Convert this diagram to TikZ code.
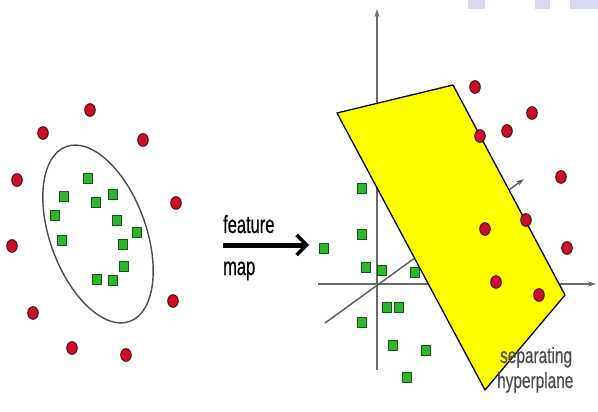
\documentclass[tikz,border=0pt]{standalone}
\usepackage{fontspec}
\setmainfont{Liberation Sans}
\newfontfamily\lblfont[FakeBold=0.6]{Liberation Sans}
\usetikzlibrary{arrows.meta}
\definecolor{redpt}{HTML}{C8102A}
\definecolor{redbd}{HTML}{5A0A0A}
\definecolor{grnpt}{HTML}{2DB52D}
\definecolor{grnbd}{HTML}{0F5A0F}
\definecolor{axisc}{HTML}{6A6A6A}
\definecolor{wmark}{HTML}{D9D9EE}
\definecolor{planey}{HTML}{FFFF00}
\tikzset{
  redball/.style={circle,draw=redbd,fill=redpt,line width=1pt,minimum width=10.5pt,minimum height=10.5pt,inner sep=0pt,yscale=1.2},
  grnsq/.style={rectangle,draw=grnbd,fill=grnpt,line width=1pt,minimum width=8.5pt,minimum height=10pt,inner sep=0pt},
  axisline/.style={draw=axisc,line width=1.4pt,-{Stealth[length=8pt,width=5pt]}},
  lbl/.style={inner sep=0pt,anchor=base west}
}
\begin{document}
\begin{tikzpicture}[x=1pt,y=-1pt]
\useasboundingbox (0,0) rectangle (598,412);
% faint watermark blocks
\fill[wmark] (468,0) rectangle (485,9);
\fill[wmark] (535,0) rectangle (550,9);
\fill[wmark] (570,0) rectangle (598,9);
% ---------- left panel ----------
\draw[line width=1.4pt,draw=black!70] (98,234) ellipse [x radius=48,y radius=93,rotate=20];
\foreach \p [count=\i] in {(90,110),(43,133),(143,140),(17,180),(176,203),(12,246),(173,301),(33,313),(72,348),(126,355)}
  \node[redball] (lr\i) at \p {};
\foreach \p [count=\i] in {(88,178),(64,196),(96,202),(113,194),(55,215),(117,220),(137,232),(62,240),(123,244),(124,266),(97,279),(113,280)}
  \node[grnsq] (lg\i) at \p {};
% ---------- feature map arrow ----------
\coordinate (fmA) at (223,245);
\coordinate (fmB) at (309,245);
\draw[line width=5pt,-{Straight Barb[length=10pt,width=20pt,line width=3.5pt]}] (fmA) -- (fmB);
\node[lbl,xscale=0.66,font=\lblfont\fontsize{25}{25}\selectfont] (tfeat) at (223,233) {feature};
\node[lbl,xscale=0.66,font=\lblfont\fontsize{25}{25}\selectfont] (tmap) at (223,275) {map};
% ---------- right panel axes ----------
\coordinate (O) at (377,284);
\coordinate (vb) at (377,370);
\coordinate (vt) at (377,9);
\coordinate (hl) at (318,284);
\coordinate (hr) at (596,284);
\coordinate (dl) at (325,323);
\coordinate (dr) at (524,179);
\draw[axisline] (vb) -- (vt);
\draw[axisline] (hl) -- (hr);
\draw[axisline,draw=black!65] (dl) -- (dr);
% green squares (right)
\foreach \p [count=\i] in {(362,188),(362,234),(324,248),(366,267),(382,270),(415,272),(387,307),(399,307),(362,322),(393,345),(426,350),(407,377)}
  \node[grnsq] (rg\i) at \p {};
% separating plane
\coordinate (P1) at (337,113);
\coordinate (P2) at (453,85);
\coordinate (P3) at (565,295);
\coordinate (P4) at (485,390);
\filldraw[fill=planey,draw=black,line width=1.3pt,line join=round] (P1) -- (P2) -- (P3) -- (P4) -- cycle;
% red balls (right)
\foreach \p [count=\i] in {(475,87),(532,113),(507,131),(480,136),(561,177),(526,220),(485,229),(567,248),(496,282),(539,295)}
  \node[redball] (rr\i) at \p {};
% label
\node[lbl,xscale=0.7,text=black!70,font=\lblfont\fontsize{22}{22}\selectfont] (tsep) at (500,363) {separating};
\node[lbl,xscale=0.7,text=black!70,font=\lblfont\fontsize{22}{22}\selectfont] (thyp) at (497,388) {hyperplane};
\end{tikzpicture}
\end{document}
